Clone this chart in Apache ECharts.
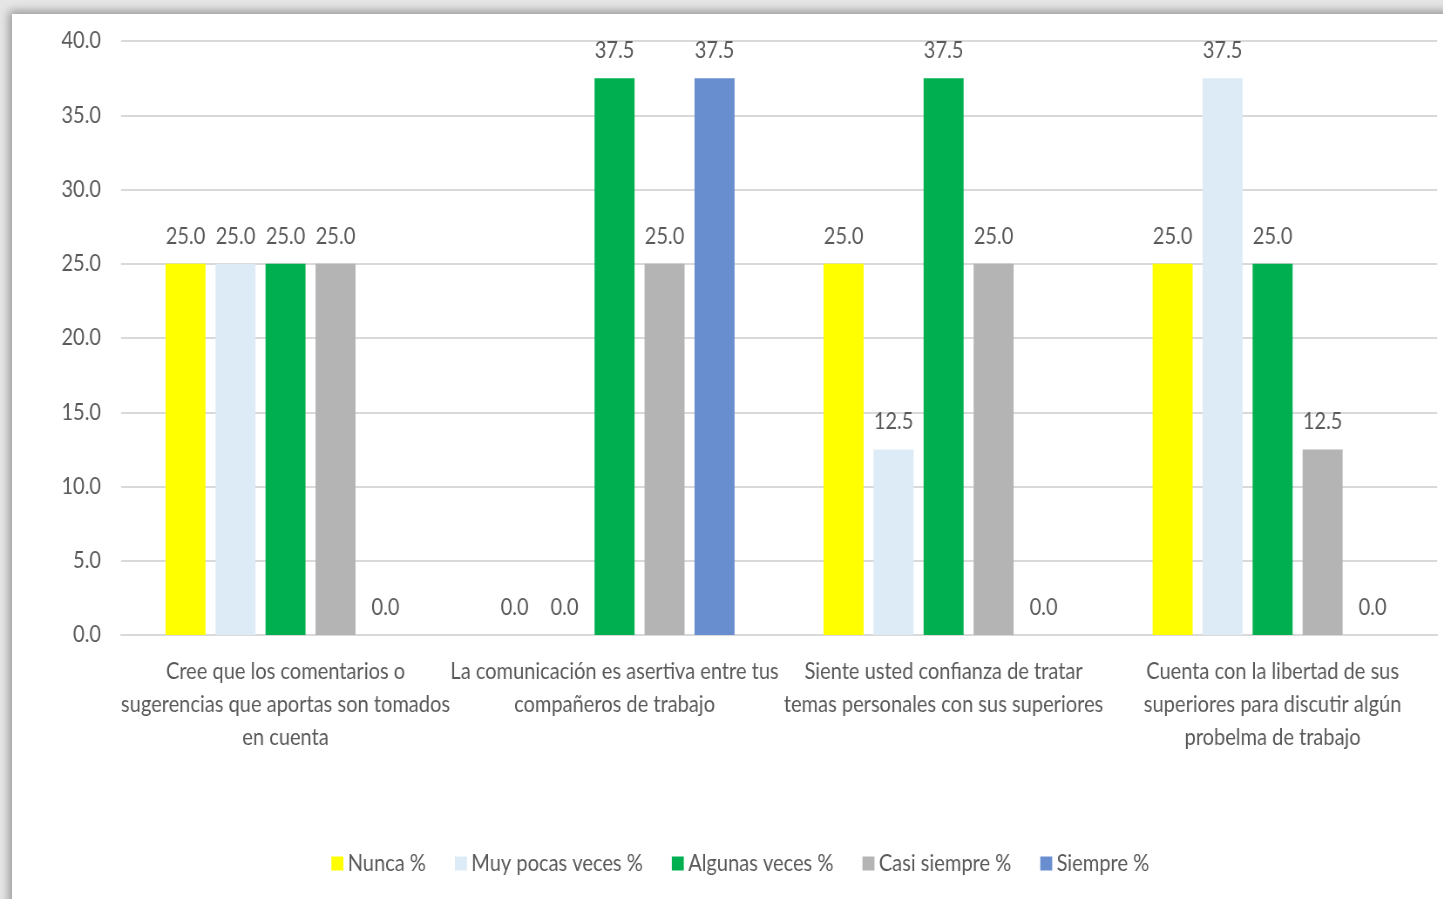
<!DOCTYPE html>
<html>
<head>
<meta charset="utf-8">
<script src="https://cdn.jsdelivr.net/npm/echarts@6/dist/echarts.min.js"></script>
<style>
  html, body { margin: 0; padding: 0; width: 1443px; height: 899px; overflow: hidden; background: #e6e6e6; }
  #frame { position: absolute; left: 12px; top: 14px; width: 1460px; height: 920px; background: #fff; box-shadow: -3px -3px 9px rgba(0,0,0,0.35); }
  #chart { position: absolute; left: 0; top: 0; height: 899px; transform-origin: 0 0; }
</style>
</head>
<body>
<div id="frame"></div>
<div id="chart"></div>
<script>
const categories = [
  "Cree que los comentarios o\nsugerencias que aportas son tomados\nen cuenta",
  "La comunicación es asertiva entre tus\ncompañeros de trabajo",
  "Siente usted confianza de tratar\ntemas personales con sus superiores",
  "Cuenta con la libertad de sus\nsuperiores para discutir algún\nprobelma de trabajo"
];
const seriesNames = ["Nunca %", "Muy pocas veces %", "Algunas veces %", "Casi siempre %", "Siempre %"];
const nunca = [25.0, 0.0, 25.0, 25.0];
const muyPocas = [25.0, 0.0, 12.5, 37.5];
const algunas = [25.0, 37.5, 37.5, 25.0];
const casiSiempre = [25.0, 25.0, 25.0, 12.5];
const siempre = [0.0, 37.5, 0.0, 0.0];
const seriesValues = [nunca, muyPocas, algunas, casiSiempre, siempre];
const colors = ["#FFFF00", "#DDEBF7", "#00B050", "#B4B4B4", "#698ED0"];

const FONT = "Lato, 'Open Sans', sans-serif";
const FS = 23;
const TXT = "#595959";

// horizontal condensing factor so the text looks like the narrow font of the original
const ctx = document.createElement('canvas').getContext('2d');
ctx.font = FS + "px " + FONT;
const s = Math.min(1, 329 / ctx.measureText("sugerencias que aportas son tomados").width);

const W = 1443 / s;
const el = document.getElementById('chart');
el.style.width = W + 'px';
el.style.transform = 'scaleX(' + s + ')';

const chart = echarts.init(el, null, { renderer: 'canvas' });
chart.setOption({
  animation: false,
  backgroundColor: 'transparent',
  textStyle: { fontFamily: FONT },
  grid: { left: 121 / s, right: 6 / s, top: 41, bottom: 264, containLabel: false },
  legend: {
    data: seriesNames,
    top: 847,
    left: 327 / s,
    icon: 'rect',
    itemWidth: 12 / s,
    itemHeight: 14,
    itemGap: 29 / s,
    textStyle: { color: TXT, fontSize: FS, fontFamily: FONT }
  },
  xAxis: {
    type: 'category',
    data: categories,
    axisLine: { lineStyle: { color: '#D9D9D9', width: 2 } },
    axisTick: { show: false },
    axisLabel: { color: TXT, fontSize: FS, fontFamily: FONT, lineHeight: 33, margin: 20, interval: 0 }
  },
  yAxis: {
    type: 'value',
    min: 0, max: 40, interval: 5,
    axisLine: { show: false },
    axisTick: { show: false },
    splitLine: { lineStyle: { color: '#D9D9D9', width: 2 } },
    axisLabel: { color: TXT, fontSize: FS, fontFamily: FONT, margin: 20 / s, formatter: v => v.toFixed(1) }
  },
  series: seriesNames.map((name, i) => ({
    name: name,
    type: 'bar',
    data: seriesValues[i],
    barWidth: 40 / s,
    barGap: '25%',
    barCategoryGap: '27%',
    itemStyle: { color: colors[i] },
    label: {
      show: true, position: 'top', distance: 16,
      color: TXT, fontSize: FS, fontFamily: FONT,
      formatter: p => p.value.toFixed(1)
    }
  }))
});
</script>
</body>
</html>
